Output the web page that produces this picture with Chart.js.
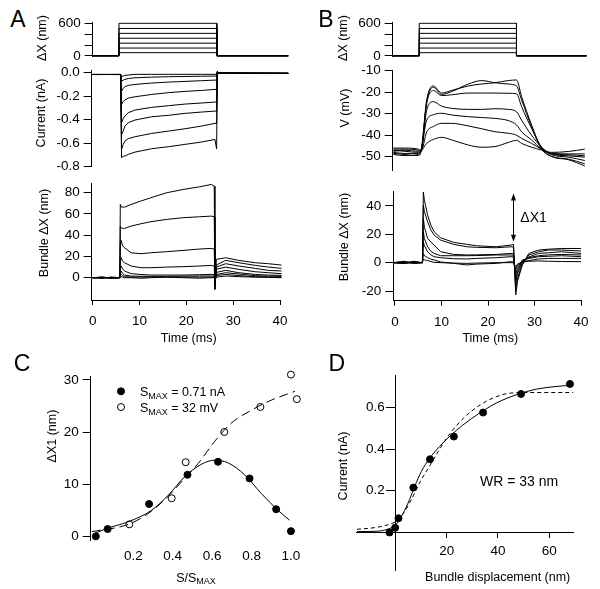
<!DOCTYPE html>
<html>
  <head>
    <title>Hair bundle mechanics</title>
    <script src="https://cdn.jsdelivr.net/npm/chart.js@4.4.1/dist/chart.umd.min.js"></script>
    <style>
      body { margin: 0; background: #fff; }
      #fig {
        position: relative; width: 600px; height: 589px; overflow: hidden;
        background: #fff; color: #000;
        font-family: 'Liberation Sans', Arial, sans-serif;
      }
      #fig canvas { position: absolute; }
      .lbl { position: absolute; white-space: nowrap; line-height: 1; transform: translate(-50%, -50%); }
      .lbl.rot { transform: translate(-50%, -50%) rotate(-90deg); }
      .lbl sub { font-size: 0.72em; vertical-align: -0.3em; line-height: 0; }
    </style>
  </head>

  <body>
    <div id="fig"></div>
    <script>
      // ---- stimulus steps (nm) ----
      const STIM_LEVELS = [60, 145, 235, 325, 415, 505, 600];
      const STIM_A_T = [0, 5.5, 5.5, 26, 26, 41];
      const STIM_B_T = [-0.5, 5.1, 5.1, 25.6, 25.6, 40.4];

      // ---- A: transduction current (nA) ----
      const CURRENT_T = [0, 5.85, 6.05, 6.4, 6.75, 7.45, 8.85, 12.35, 15.85, 19.35, 22.8, 25.6, 25.95, 26.1, 26.4, 41];
      const CURRENT_A = [
        [-0.015, -0.015, -0.034, -0.028, -0.023, -0.02, -0.014, -0.014, -0.014, -0.014, -0.014, -0.014, -0.014, 0.004, -0.004, -0.006],
        [-0.015, -0.016, -0.071, -0.064, -0.057, -0.05, -0.043, -0.038, -0.034, -0.032, -0.03, -0.029, -0.029, 0.005, -0.003, -0.005],
        [-0.015, -0.015, -0.156, -0.135, -0.119, -0.108, -0.1, -0.088, -0.08, -0.074, -0.068, -0.063, -0.063, 0.006, -0.004, -0.006],
        [-0.016, -0.015, -0.27, -0.245, -0.233, -0.216, -0.205, -0.185, -0.17, -0.159, -0.151, -0.142, -0.142, 0.007, -0.003, -0.005],
        [-0.015, -0.016, -0.426, -0.39, -0.369, -0.341, -0.318, -0.295, -0.281, -0.267, -0.258, -0.25, -0.25, 0.008, -0.004, -0.005],
        [-0.015, -0.015, -0.525, -0.497, -0.454, -0.426, -0.403, -0.375, -0.363, -0.346, -0.335, -0.327, -0.327, 0.008, -0.003, -0.006],
        [-0.016, -0.015, -0.653, -0.61, -0.582, -0.562, -0.545, -0.517, -0.497, -0.477, -0.454, -0.431, -0.431, 0.009, -0.004, -0.005],
        [-0.015, -0.015, -0.724, -0.71, -0.71, -0.695, -0.676, -0.647, -0.63, -0.61, -0.59, -0.568, -0.65, 0.01, -0.003, -0.006],
      ];

      // ---- A: bundle displacement (nm) ----
      const BUNDLE_A_T = [0, 2, 4, 5.8, 5.9, 6.1, 6.4, 6.8, 8.2, 10.3, 12.4, 15.8, 19.3, 22.8, 25.3, 25.95, 26.1, 26.4, 28.4, 31.2, 34.7, 37.5, 40.3];
      const BUNDLE_A = [
        [0, 0.3, -0.3, 0, 0.5, 1, 0.5, 0, 0, -0.5, 0, 0.5, 0, -0.5, 0, 0, -2, 0.5, 1.6, 1, 0.5, 0.3, 0],
        [0, -0.3, 0.3, 0, 2, 3.1, 2, 1, 0.6, 0.6, 0.6, 0.6, 0.6, 0.6, 0.6, 0.6, -3, 2, 3.1, 2, 1, 0.8, 0.6],
        [0, 0.5, -0.5, 0, 4, 6.3, 4, 2.5, 1.5, 1.3, 1.3, 1.3, 1.5, 1.6, 1.6, 1.5, -4, 3, 4.7, 3.5, 1.9, 1.5, 1.3],
        [0, -0.5, 0.5, 0, 8, 11, 8.5, 6.3, 3.8, 3, 2.5, 2.5, 2.5, 2.8, 3.1, 3, -5, 5, 6.9, 4.7, 3.1, 2.5, 2.2],
        [0, 0.5, 0, 0, 15, 18.8, 15.5, 14.1, 11, 9.4, 9.4, 10, 10.4, 11, 11.6, 11, -6, 8, 10, 7.8, 5.6, 4.7, 3.8],
        [0, 0.3, -0.3, 0, 30, 35.1, 30, 28.2, 23.5, 22.6, 23.5, 24.5, 25.7, 27, 27.6, 27, -7, 10, 13.2, 11, 8.8, 6.9, 6.3],
        [0, -0.5, 0.5, 0, 48.6, 47, 46.4, 46.4, 48.6, 50.8, 52.7, 54.9, 56.5, 57.4, 58, 57.5, -8, 12, 16.3, 14.1, 11.6, 10, 8.8],
        [0, 0.5, -0.5, 0, 69, 66.5, 66.5, 66.5, 69, 72.2, 75.3, 80, 83.1, 85.6, 87.8, 86.3, -11, 17.3, 18.8, 16.3, 14.1, 13.2, 11.9],
      ];

      // ---- B: receptor potential (mV) ----
      const VOLT_T = [-0.35, 2.1, 4.9, 5.47, 6.67, 8.07, 9.82, 11.93, 15.44, 18.25, 21.05, 23.86, 25.6, 26.67, 28.77, 30.88, 33, 36.5, 40];
      const VOLT_B = [
        [-47, -47.5, -48, -47, -23.6, -17.1, -20.4, -19.2, -17.1, -16.2, -15.6, -14.6, -14.3, -22, -35.2, -46, -49.9, -51.4, -54.3],
        [-46, -46, -46.5, -47, -24.4, -17.7, -21, -19.7, -16.2, -14.6, -15.6, -16.2, -17.1, -23.6, -36, -46.5, -49.9, -51.1, -53.3],
        [-48.5, -49, -49.5, -47.5, -25.2, -19.2, -21.6, -21.2, -20.4, -20.4, -20.4, -20.5, -20.7, -26.7, -36.8, -45.6, -49.1, -50.2, -51.8],
        [-47.5, -47, -47.5, -47, -28.3, -24.4, -26.5, -27.5, -28, -28, -27.7, -28, -29.1, -33, -40, -45.6, -48.7, -49.6, -50.2],
        [-49, -49.5, -49, -47.5, -33, -30.5, -29.8, -30.6, -31.4, -31.8, -32.2, -33.2, -35.2, -38.4, -42.2, -46.5, -48.7, -49.1, -49.6],
        [-46.5, -46.5, -47, -47.5, -38.5, -36, -34.5, -34.5, -35.7, -37, -38.4, -39.1, -40, -41.5, -43.8, -46.5, -48.4, -48.7, -48.7],
        [-48, -48.5, -48.5, -47.5, -43.8, -42, -41, -42.2, -44.6, -45.6, -45.3, -43.4, -42.4, -43.8, -45.6, -46.9, -48, -47.6, -46.5],
      ];

      // ---- B: bundle displacement (nm) ----
      const BUNDLE_B_T = [-0.36, 2, 4, 5.9, 6.1, 6.32, 7.02, 7.72, 8.42, 9.82, 12.63, 15.44, 17.54, 21.75, 24.91, 25.47, 25.96, 26.32, 27.37, 28.77, 30.88, 33, 35.8, 40];
      const BUNDLE_B = [
        [0, 1, -0.5, 0, 49.8, 44, 33.5, 26.4, 21.8, 17.5, 14.3, 12.9, 11.9, 11.2, 12.4, 12.9, -22.7, -13.3, -1.6, 5.4, 7.7, 8.9, 8.9, 8.2],
        [0, -0.5, 1, 0, 40.5, 36, 28.8, 23, 19.4, 15.9, 12.9, 11.2, 10.8, 10.5, 11.2, 11, -20, -11, -1.2, 6.5, 8.9, 9.5, 10, 10],
        [0, 0.5, 0, 0, 31.1, 25, 17.1, 14.5, 12.4, 7.7, 5.8, 5.4, 5.5, 5.8, 6.5, 6.3, -15, -8, 0.2, 4, 6.5, 7, 7.7, 6.5],
        [0, -0.5, 0.5, 0, 21.8, 17, 11.2, 8, 6.5, 4.9, 4.9, 4.9, 5, 5.4, 5.4, 5.2, -12, -6, 1.2, 3.5, 4.9, 5.5, 5.8, 5.4],
        [0, 0.5, -0.5, 0, 14.7, 12, 7.7, 5.5, 4.2, 3.5, 2.8, 2.6, 3, 3.5, 4.2, 4, -8, -4, 1.9, 3, 4.2, 4.5, 4.9, 4.2],
        [0, 0, 0.5, 0, 6.5, 5, 3.5, 2.5, 1.9, 0.5, -0.5, -1.6, -1, -0.5, 0.7, 0.5, -5, -2, 0.5, 1.5, 2.6, 3, 3, 3],
        [0, -0.5, 0, 0, 2.6, 2, 1.5, 0.8, 0.2, 0, -0.3, -0.5, -0.3, 0, 0, 0, -3, -1, 0.5, 1, 1.2, 1, 0.8, 0.7],
      ];
      const DX1_ARROW = { t: 25.47, top: 48.7, bottom: 14.7 };

      // ---- C: dX1 against normalised response ----
      const C_CURRENT_X = [0.01, 0.07, 0.28, 0.475, 0.63, 0.79, 0.925, 1.0];
      const C_CURRENT_Y = [0, 1.4, 6.2, 11.8, 14.3, 11.1, 5.2, 1.0];
      const C_VOLT_X = [0.18, 0.395, 0.466, 0.662, 0.845, 1.0, 1.03];
      const C_VOLT_Y = [2.3, 7.3, 14.2, 20.0, 24.8, 31.0, 26.3];
      const C_FIT_SOLID_X = [0, 0.073, 0.175, 0.293, 0.378, 0.46, 0.545, 0.613, 0.68, 0.765, 0.85, 0.934, 0.993];
      const C_FIT_SOLID_Y = [0.5, 1.6, 2.8, 5.0, 7.9, 11.4, 13.8, 14.6, 14.1, 11.8, 8.2, 5.0, 3.1];
      const C_FIT_DASH_X = [-0.01, 0.175, 0.277, 0.378, 0.46, 0.53, 0.613, 0.697, 0.8, 0.9, 1.02];
      const C_FIT_DASH_Y = [0.9, 2.3, 4.4, 7.7, 11.1, 14.0, 18.2, 21.7, 24.2, 26.1, 27.8];
      const C_LEGEND = [
        { value: '0.71 nA', filled: true },
        { value: '32 mV', filled: false },
      ];

      // ---- D: current-displacement relation ----
      const D_X = [-2.3, -0.1, 1.2, 7.0, 13.5, 22.8, 34.2, 49, 68.1];
      const D_Y = [0.0, 0.023, 0.068, 0.215, 0.351, 0.46, 0.575, 0.664, 0.712];
      const D_FIT_SOLID_X = [-15, -7.1, -3.2, 0, 2.3, 4.9, 7.5, 10.1, 13.4, 17.2, 21.1, 26.3, 32.8, 39.3, 47.1, 54.9, 62.7, 69.2];
      const D_FIT_SOLID_Y = [0.004, 0.006, 0.015, 0.036, 0.076, 0.14, 0.22, 0.292, 0.356, 0.412, 0.46, 0.515, 0.572, 0.62, 0.66, 0.687, 0.70, 0.707];
      const D_FIT_DASH_X = [-15, -7.1, -1.9, 0.7, 3.3, 6.5, 9.7, 13.6, 17.5, 21.4, 26.6, 33.1, 39.6, 44.8, 52.6, 69.5];
      const D_FIT_DASH_Y = [0.015, 0.025, 0.041, 0.057, 0.095, 0.164, 0.244, 0.324, 0.404, 0.476, 0.548, 0.612, 0.652, 0.668, 0.671, 0.671];
      const D_Y_TICKS = [0.2, 0.4, 0.6];

      // ---- text placed around the plots ----
      const LABELS = [
        ['A', 18, 18.5, 23, false], ['B', 325.8, 18.5, 23, false],
        ['C', 22, 363.3, 23, false], ['D', 336.7, 363.3, 23, false],
        ['ΔX (nm)', 42, 37.5, 12.5, true], ['Current (nA)', 41.3, 112.5, 12.5, true],
        ['Bundle ΔX (nm)', 44, 232.6, 12.5, true], ['Time (ms)', 188.7, 338, 12.5, false],
        ['ΔX (nm)', 342.8, 37.5, 12.5, true], ['V (mV)', 345, 107.5, 12.5, true],
        ['Bundle ΔX (nm)', 344, 236.7, 12.5, true], ['Time (ms)', 490.3, 338, 12.5, false],
        ['ΔX1 (nm)', 51.7, 436, 12.5, true], ['S/S<sub>MAX</sub>', 196, 578, 12.5, false],
        ['Current (nA)', 343.3, 465.8, 12.5, true], ['Bundle displacement (nm)', 497.7, 576.7, 12.5, false],
      ];

      Chart.defaults.font.family = "'Liberation Sans', Arial, sans-serif";
      Chart.defaults.font.size = 13.5;
      Chart.defaults.color = '#000';

      const fig = document.getElementById('fig');
      const M = { l: 62, t: 12, r: 12, b: 34 };

      function makeChart(area, x, y, datasets, plugins) {
        const left = Math.floor(area.l - M.l), top = Math.floor(area.t - M.t);
        const width = Math.ceil(area.r + M.r - left), height = Math.ceil(area.b + M.b - top);
        const canvas = document.createElement('canvas');
        canvas.width = width; canvas.height = height;
        Object.assign(canvas.style, { left: left + 'px', top: top + 'px', width: width + 'px', height: height + 'px' });
        fig.appendChild(canvas);
        const pad = { left: area.l - left, top: area.t - top, right: left + width - area.r, bottom: top + height - area.b };
        const xDocked = x.display !== false && typeof x.position !== 'object';
        const yDocked = y.display !== false && typeof y.position !== 'object';
        if (xDocked) x.afterFit = s => { s.height = pad.bottom; };
        if (yDocked) y.afterFit = s => { s.width = pad.left; };
        return new Chart(canvas, {
          type: 'line',
          data: { datasets },
          options: {
            responsive: false,
            animation: false,
            devicePixelRatio: 1,
            events: [],
            layout: {
              autoPadding: false,
              padding: { left: yDocked ? 0 : pad.left, right: pad.right, top: pad.top, bottom: xDocked ? 0 : pad.bottom },
            },
            plugins: { legend: { display: false }, tooltip: { enabled: false } },
            scales: { x, y },
          },
          plugins: plugins || [],
        });
      }

      function yAxis(min, max, ticks, fmt, tickLength = 8, padding = 4, position = 'left') {
        return {
          type: 'linear', position, min, max,
          afterBuildTicks: s => { s.ticks = ticks.map(v => ({ value: v })); },
          border: { display: true, color: '#000', width: 1 },
          grid: { drawOnChartArea: false, color: '#000', tickLength, tickWidth: 1 },
          ticks: { padding, autoSkip: false, color: '#000', callback: fmt },
        };
      }
      function xAxis(min, max, ticks, fmt, tickLength = 5, padding = 8.4, position = 'bottom') {
        return {
          type: 'linear', position, min, max,
          afterBuildTicks: s => { s.ticks = ticks.map(v => ({ value: v })); },
          border: { display: true, color: '#000', width: 1 },
          grid: { drawOnChartArea: false, color: '#000', tickLength, tickWidth: 1 },
          ticks: { padding, autoSkip: false, maxRotation: 0, color: '#000', callback: fmt },
        };
      }
      const hiddenX = (min, max) => ({ type: 'linear', min, max, display: false });

      const trace = (T, Y, extra) => Object.assign({
        data: T.map((t, i) => ({ x: t, y: Y[i] })),
        borderColor: '#000', borderWidth: 1, pointRadius: 0, fill: false, tension: 0,
      }, extra);
      const dots = (X, Y, filled) => ({
        data: X.map((v, i) => ({ x: v, y: Y[i] })),
        showLine: false, clip: false,
        pointRadius: 3.5, pointBorderWidth: 1, pointBorderColor: '#000',
        pointBackgroundColor: filled ? '#000' : '#fff',
      });
      const stimLevel = (T, L) => trace(T, [0, 0, L, L, 0, 0]);
      const plain = v => String(v);
      const fixed1 = v => v.toFixed(1);
      const stimFmt = v => (v === 0 || v === 600 ? String(v) : '');

      // A: stimulus, current, bundle
      makeChart({ l: 92.7, t: 22.2, r: 288.5, b: 56.5 }, hiddenX(0, 41),
        yAxis(-10, 620, [0, 200, 400, 600], stimFmt),
        STIM_LEVELS.map(L => stimLevel(STIM_A_T, L)));

      makeChart({ l: 91.7, t: 70.7, r: 288.5, b: 166.7 }, hiddenX(-0.2, 41),
        yAxis(-0.8, 0.017, [0, -0.2, -0.4, -0.6, -0.8], fixed1),
        CURRENT_A.map(Y => trace(CURRENT_T, Y)));

      makeChart({ l: 91.7, t: 183, r: 283.7, b: 300 }, xAxis(-0.2, 40, [0, 10, 20, 30, 40], plain),
        yAxis(-21, 89.1, [0, 20, 40, 60, 80], plain),
        BUNDLE_A.map(Y => trace(BUNDLE_A_T, Y, { clip: 3 })));

      // B: stimulus, voltage, bundle
      makeChart({ l: 392.7, t: 22.2, r: 586.7, b: 56.5 }, hiddenX(-0.5, 40.4),
        yAxis(-10, 620, [0, 200, 400, 600], stimFmt),
        STIM_LEVELS.map(L => stimLevel(STIM_B_T, L)));

      makeChart({ l: 392.7, t: 70.7, r: 586.7, b: 170 }, hiddenX(-0.5, 40.4),
        yAxis(-56.2, -10, [-50, -40, -30, -20, -10], plain),
        VOLT_B.map(Y => trace(VOLT_T, Y, { cubicInterpolationMode: 'monotone' })));

      const dx1Plugin = {
        id: 'dx1',
        afterDatasetsDraw(chart) {
          const { ctx, scales: { x, y } } = chart;
          const ax = Math.round(x.getPixelForValue(DX1_ARROW.t)) + 0.5;
          const y1 = y.getPixelForValue(DX1_ARROW.top), y2 = y.getPixelForValue(DX1_ARROW.bottom);
          ctx.save();
          ctx.strokeStyle = '#000'; ctx.fillStyle = '#000'; ctx.lineWidth = 1;
          ctx.beginPath(); ctx.moveTo(ax, y1 + 5); ctx.lineTo(ax, y2 - 5); ctx.stroke();
          ctx.beginPath(); ctx.moveTo(ax, y1); ctx.lineTo(ax - 2.5, y1 + 7); ctx.lineTo(ax + 2.5, y1 + 7); ctx.closePath(); ctx.fill();
          ctx.beginPath(); ctx.moveTo(ax, y2); ctx.lineTo(ax - 2.5, y2 - 7); ctx.lineTo(ax + 2.5, y2 - 7); ctx.closePath(); ctx.fill();
          ctx.font = "14px 'Liberation Sans', Arial, sans-serif";
          ctx.textAlign = 'left'; ctx.textBaseline = 'middle';
          ctx.fillText('ΔX1', x.getPixelForValue(26.94), y.getPixelForValue(31.3));
          ctx.restore();
        },
      };
      makeChart({ l: 393.3, t: 191.7, r: 585, b: 300.7 }, xAxis(-0.36, 40, [0, 10, 20, 30, 40], plain),
        yAxis(-26.8, 50, [-20, 0, 20, 40], plain),
        BUNDLE_B.map(Y => trace(BUNDLE_B_T, Y)), [dx1Plugin]);

      // C
      const legendPlugin = {
        id: 'smaxLegend',
        afterDatasetsDraw(chart) {
          const { ctx, scales: { x, y } } = chart;
          const rows = [27.8, 24.78];
          ctx.save();
          C_LEGEND.forEach((item, i) => {
            const my = y.getPixelForValue(rows[i]);
            ctx.beginPath();
            ctx.arc(x.getPixelForValue(0.1377), my, 3.5, 0, Math.PI * 2);
            ctx.fillStyle = item.filled ? '#000' : '#fff';
            ctx.fill();
            ctx.lineWidth = 1; ctx.strokeStyle = '#000'; ctx.stroke();
            let tx = x.getPixelForValue(0.2338);
            const base = my + 4.6;
            ctx.fillStyle = '#000'; ctx.textAlign = 'left'; ctx.textBaseline = 'alphabetic';
            ctx.font = "12.5px 'Liberation Sans', Arial, sans-serif";
            ctx.fillText('S', tx, base); tx += ctx.measureText('S').width;
            ctx.font = "9px 'Liberation Sans', Arial, sans-serif";
            ctx.fillText('MAX', tx, base + 3); tx += ctx.measureText('MAX').width;
            ctx.font = "12.5px 'Liberation Sans', Arial, sans-serif";
            ctx.fillText(' = ' + item.value, tx, base);
          });
          ctx.restore();
        },
      };
      const cX = xAxis(-0.016, 1.046, [0.2, 0.4, 0.6, 0.8, 1.0], fixed1, 0, 8.6);
      cX.border = { display: false };
      cX.grid = { display: false, drawTicks: false };
      makeChart({ l: 90.7, t: 376.7, r: 300, b: 540 }, cX,
        yAxis(-0.7, 30.6, [0, 10, 20, 30], plain),
        [
          trace(C_FIT_SOLID_X, C_FIT_SOLID_Y, { cubicInterpolationMode: 'monotone' }),
          trace(C_FIT_DASH_X, C_FIT_DASH_Y, { cubicInterpolationMode: 'monotone', borderDash: [9, 5] }),
          dots(C_CURRENT_X, C_CURRENT_Y, true),
          dots(C_VOLT_X, C_VOLT_Y, false),
        ], [legendPlugin]);

      // D: both axes cross at the origin; y labels sit left of the crossing axis
      const dPlugin = {
        id: 'dText',
        afterDatasetsDraw(chart) {
          const { ctx, scales: { x, y } } = chart;
          ctx.save();
          ctx.fillStyle = '#000';
          ctx.font = "13.5px 'Liberation Sans', Arial, sans-serif";
          ctx.textAlign = 'right'; ctx.textBaseline = 'middle';
          const x0 = x.getPixelForValue(0);
          D_Y_TICKS.forEach(v => ctx.fillText(v.toFixed(1), x0 - 10.7, y.getPixelForValue(v)));
          ctx.font = "14px 'Liberation Sans', Arial, sans-serif";
          ctx.textAlign = 'left';
          ctx.fillText('WR = 33 nm', x.getPixelForValue(33), y.getPixelForValue(0.239));
          ctx.restore();
        },
      };
      const dY = yAxis(-0.18, 0.755, D_Y_TICKS, fixed1, 9, 1.5, { x: 0 });
      dY.ticks.display = false;
      makeChart({ l: 356.7, t: 375, r: 573.3, b: 570 },
        xAxis(-15.1, 69.4, [20, 40, 60], plain, 5, 6.1, { y: 0 }),
        dY,
        [
          trace(D_FIT_SOLID_X, D_FIT_SOLID_Y, { cubicInterpolationMode: 'monotone' }),
          trace(D_FIT_DASH_X, D_FIT_DASH_Y, { cubicInterpolationMode: 'monotone', borderDash: [4, 3] }),
          dots(D_X, D_Y, true),
        ], [dPlugin]);

      LABELS.forEach(([html, cx, cy, size, rot]) => {
        const d = document.createElement('div');
        d.className = 'lbl' + (rot ? ' rot' : '');
        Object.assign(d.style, { left: cx + 'px', top: cy + 'px', fontSize: size + 'px' });
        d.innerHTML = html;
        fig.appendChild(d);
      });
    </script>
  </body>
</html>
